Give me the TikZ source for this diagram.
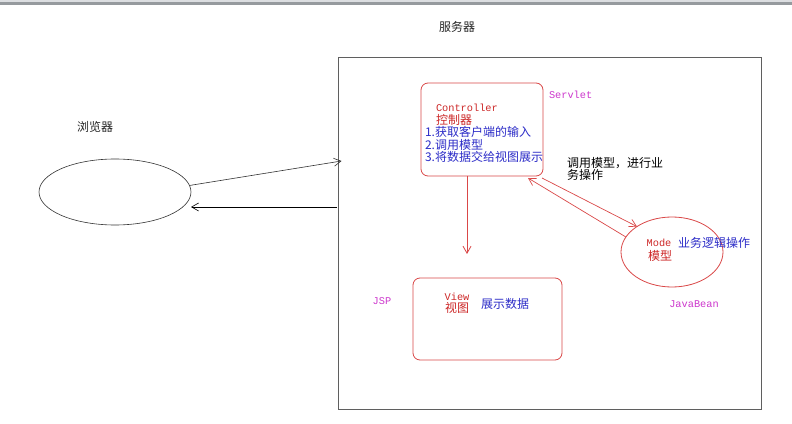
\documentclass[tikz,border=0pt]{standalone}
\usepackage{fontspec}
\setmainfont{Noto Sans CJK SC}
\newfontfamily\monofont{Liberation Mono}
\usetikzlibrary{arrows.meta,shapes.geometric}

\begin{document}
\begin{tikzpicture}[x=1pt,y=1pt,
  every node/.style={inner sep=0pt,outer sep=0pt},
  openarrow/.style={-{Straight Barb[length=7pt,width=8pt]}},
  redbox/.style={draw=boxRed,line width=0.8pt,rounded corners=7pt},
  cjk/.style={font=\fontsize{12}{12.5}\selectfont},
  mono/.style={font=\monofont\fontsize{10.3}{11}\selectfont}]
\definecolor{boxRed}{RGB}{218,72,72}
\definecolor{textRed}{RGB}{205,40,40}
\definecolor{textBlue}{RGB}{45,45,200}
\definecolor{textPink}{RGB}{205,55,205}
\definecolor{frameGray}{RGB}{95,95,95}
\path[use as bounding box,fill=white] (0,0) rectangle (792,423);
\fill[fill={rgb,255:red,220;green,222;blue,225}] (0,420.5) rectangle (792,423);
\fill[fill={rgb,255:red,150;green,154;blue,158}] (0,418) rectangle (792,420.5);

% browser side
\node[draw=black!80,line width=0.6pt,ellipse,minimum width=152,minimum height=66] (browser) at (115,231) {};
\node[cjk,text=black!85] (browserLabel) at (95,296) {浏览器};

% server frame
\node[draw=frameGray,line width=0.8pt,minimum width=423,minimum height=352] (server) at (549.5,190) {};
\node[cjk,text=black!85] (serverLabel) at (457,396) {服务器};

\coordinate (reqEnd) at (341.5,262);
\coordinate (respStart) at (337,216);
\coordinate (respEnd) at (191,216);
\draw[openarrow,draw=black!80,line width=0.6pt] (browser.5) -- (reqEnd);
\draw[openarrow,draw=black,line width=0.6pt] (respStart) -- (respEnd);

% controller
\node[redbox,minimum width=122,minimum height=93] (ctrl) at (482,293.5) {};
\node[mono,text=textRed,anchor=west] (ctrlName) at (436,315) {Controller};
\node[cjk,text=textRed,anchor=west] (ctrlCn) at (436,303) {控制器};
\node[cjk,text=textBlue,anchor=west] (ctrlStepA) at (425,291) {1.获取客户端的输入};
\node[cjk,text=textBlue,anchor=west] (ctrlStepB) at (425,278.5) {2.调用模型};
\node[cjk,text=textBlue,anchor=west] (ctrlStepC) at (425,266) {3.将数据交给视图展示};
\node[mono,text=textPink,anchor=west] (servletLabel) at (549,328) {Servlet};

% view
\node[redbox,minimum width=149,minimum height=82] (view) at (487.5,104) {};
\node[mono,text=textRed] (viewName) at (457,126) {View};
\node[cjk,text=textRed] (viewCn) at (457,115) {视图};
\node[cjk,text=textBlue] (viewTask) at (505,119) {展示数据};
\node[mono,text=textPink] (jspLabel) at (382,122) {JSP};

\coordinate (viewIn) at (467,169);
\draw[openarrow,draw=boxRed,line width=0.8pt] (ctrl.south -| viewIn) -- (viewIn);

% model
\node[draw=boxRed,line width=0.8pt,ellipse,minimum width=102,minimum height=70] (model) at (672,171) {};
\node[mono,text=textRed] (modelName) at (659,180) {Mode};
\node[cjk,text=textRed] (modelCn) at (660,167) {模型};
\node[cjk,text=textBlue,anchor=west] (modelTask) at (678,180) {业务逻辑操作};
\node[mono,text=textPink] (beanLabel) at (694,119) {JavaBean};

\coordinate (backEnd) at (528,245);
\draw[openarrow,draw=boxRed,line width=0.7pt] ([shift={(-1,-2)}]ctrl.south east) -- (model.144);
\draw[openarrow,draw=boxRed,line width=0.7pt] (model.162) -- (backEnd);
\node[cjk,text=black,anchor=west] (callLineA) at (567,260) {调用模型，进行业};
\node[cjk,text=black,anchor=west] (callLineB) at (567,248) {务操作};
\end{tikzpicture}
\end{document}
